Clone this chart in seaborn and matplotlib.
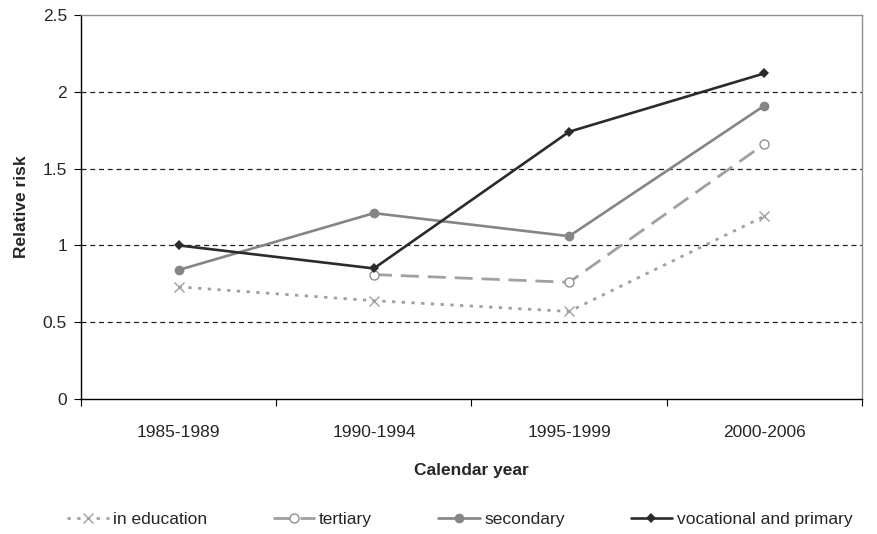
import numpy as np
import pandas as pd
import matplotlib
matplotlib.use("Agg")
import matplotlib.pyplot as plt
import seaborn as sns

years = ["1985-1989", "1990-1994", "1995-1999", "2000-2006"]
in_education = [0.73, 0.64, 0.57, 1.19]
tertiary = [np.nan, 0.81, 0.76, 1.66]
secondary = [0.84, 1.21, 1.06, 1.91]
vocational = [1.00, 0.85, 1.74, 2.12]
yticks = [0, 0.5, 1, 1.5, 2, 2.5]
ytick_labels = ["0", "0.5", "1", "1.5", "2", "2.5"]

sns.set_theme(style="white")
plt.rcParams['font.family'] = ['Liberation Sans', 'DejaVu Sans']

FS = 12.5

fig = plt.figure(figsize=(8.78, 5.34), dpi=100)
ax = fig.add_axes([81/878, 1-399/534, (862-81)/878, (399-15)/534])

x = np.arange(len(years))
series = [
    ("in education", in_education, dict(color="#a0a0a0", linestyle=(0, (1.2, 2.3)), marker="x",
                                        markersize=7.5, markeredgecolor="#a0a0a0",
                                        markeredgewidth=1.0, linewidth=2.0)),
    ("tertiary", tertiary, dict(color="#a0a0a0", linestyle=(0, (6.5, 3.2)), marker="o",
                                markersize=6.5, markerfacecolor="white", markeredgecolor="#909090",
                                markeredgewidth=1.0, linewidth=2.0)),
    ("secondary", secondary, dict(color="#858585", linestyle="-", marker="o",
                                  markersize=7, markeredgecolor="#858585",
                                  markeredgewidth=0, linewidth=1.9)),
    ("vocational and primary", vocational, dict(color="#2b2b2b", linestyle="-", marker="D",
                                                markersize=5.5, markeredgecolor="#2b2b2b",
                                                markeredgewidth=0, linewidth=1.9)),
]

for name, vals, style in series:
    df = pd.DataFrame({"x": x, "y": vals}).dropna()
    sns.lineplot(data=df, x="x", y="y", ax=ax, label=name, **style)

for yv in [0.5, 1, 1.5, 2]:
    ax.axhline(yv, color="#222222", linestyle=(0, (4, 3)), linewidth=0.9, zorder=0)

ax.set_xlim(-0.5, 3.5)
ax.set_ylim(0, 2.5)
ax.set_yticks(yticks)
ax.set_yticklabels(ytick_labels, fontsize=FS)
ax.set_xticks(x)
ax.set_xticklabels(years, fontsize=FS)
ax.set_xticks(np.arange(-0.5, 4.0, 1.0), minor=True)
ax.tick_params(axis="x", which="major", length=0, pad=19)
ax.tick_params(axis="x", which="minor", length=5, width=0.8, color="black", direction="out", bottom=True)
ax.tick_params(axis="y", length=5, width=0.8, color="black", direction="out", left=True, pad=5)

for side in ["top", "right"]:
    ax.spines[side].set_color("#909090")
    ax.spines[side].set_linewidth(1.0)
for side in ["left", "bottom"]:
    ax.spines[side].set_color("black")
    ax.spines[side].set_linewidth(1.0)

ax.set_xlabel("Calendar year", fontsize=FS, fontweight="bold", labelpad=16)
ax.set_ylabel("Relative risk", fontsize=FS, fontweight="bold", labelpad=10)

ax.get_legend().remove()
handles, labels = ax.get_legend_handles_labels()
fig.legend(handles, labels, loc="center left", bbox_to_anchor=(67/878, 1-519/534), ncol=4,
           frameon=False, fontsize=FS, handlelength=2.4, handletextpad=0.25,
           columnspacing=3.8, borderpad=0, borderaxespad=0)

fig.savefig("out.png", dpi=100)
